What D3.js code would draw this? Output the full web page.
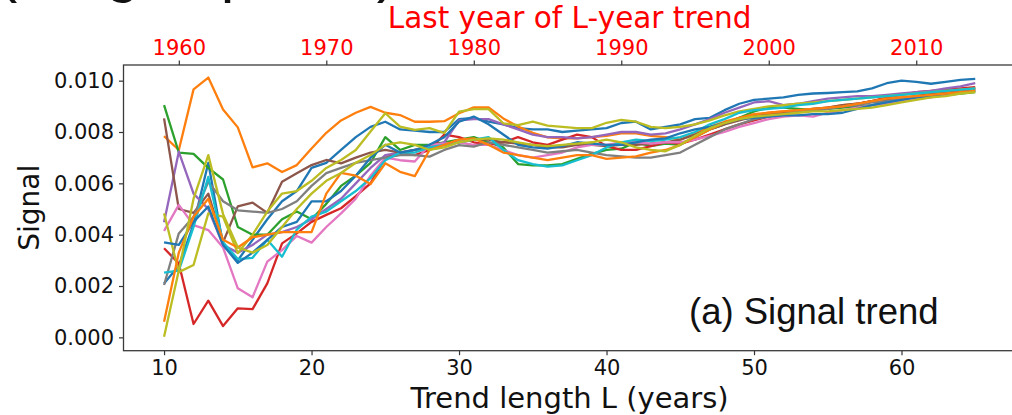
<!DOCTYPE html>
<html>
<head>
<meta charset="utf-8">
<script src="https://cdn.jsdelivr.net/npm/d3@7"></script>
<style>
  body { margin: 0; background: #fff; }
  svg { display: block; }
  svg text { font-family: "DejaVu Sans", sans-serif; }
</style>
</head>
<body>
<div id="chart"></div>
<script>
// Trend length L (years), one value per ensemble member per L
const trendLengths = d3.range(10, 66);

// Signal values, in units of 1e-3
const memberBlue1 = [
  2.1, 2.8, 4.4, 6.8, 3.6, 3.0, 3.8, 4.6, 5.3, 5.7,
  6.6, 6.8, 7.3, 7.8, 8.2, 8.4, 8.1, 8.05, 8.0, 8.0,
  8.5, 8.55, 8.4, 8.3, 8.15, 8.1, 8.1, 8.0, 8.05, 8.1,
  8.15, 8.35, 8.4, 8.1, 8.2, 8.3, 8.5, 8.55, 8.85, 9.1,
  9.25, 9.3, 9.35, 9.45, 9.5, 9.52, 9.55, 9.58, 9.7, 9.9,
  10.0, 9.95, 9.88, 9.95, 10.03, 10.07
];
const memberOrange1 = [
  7.84, 7.3, 9.66, 10.12, 8.88, 8.18, 6.62, 6.78, 6.44, 6.71,
  7.36, 7.97, 8.45, 8.75, 8.98, 8.75, 8.66, 8.4, 8.4, 8.42,
  8.73, 8.96, 8.96, 8.53, 8.21, 7.97, 7.79, 7.75, 7.75, 7.8,
  7.85, 7.95, 7.95, 7.85, 7.8, 7.7, 7.95, 8.2, 8.4, 8.55,
  8.65, 8.75, 8.8, 8.85, 8.9, 8.95, 9.05, 9.1, 9.2, 9.3,
  9.35, 9.4, 9.5, 9.6, 9.65, 9.68
];
const memberGreen = [
  9.05, 7.2, 7.15, 6.6, 6.15, 4.3, 4.0, 4.0, 4.6, 4.9,
  4.6, 5.2, 5.9, 6.3, 6.8, 7.8, 7.3, 7.5, 7.5, 7.6,
  7.7, 7.8, 7.6, 7.4, 6.75, 6.7, 6.7, 6.75, 6.95, 7.15,
  7.3, 7.35, 7.6, 7.45, 7.55, 7.5, 7.8, 8.1, 8.3, 8.55,
  8.8, 8.95, 8.95, 8.9, 8.85, 8.9, 8.95, 9.0, 9.05, 9.15,
  9.2, 9.3, 9.4, 9.45, 9.5, 9.55
];
const memberRed = [
  3.47, 2.88, 0.52, 1.43, 0.44, 1.13, 1.1, 2.1, 3.66, 4.05,
  4.5, 4.77, 5.03, 5.5, 6.0, 7.0, 7.2, 7.1, 7.3, 7.9,
  7.8, 7.6, 7.5, 7.6, 7.8, 7.6, 7.5, 7.7, 7.9, 7.8,
  7.45, 7.3, 7.3, 7.45, 7.6, 7.55, 7.7, 7.9, 8.1, 8.3,
  8.45, 8.6, 8.7, 8.8, 8.85, 8.95, 9.0, 9.1, 9.2, 9.35,
  9.45, 9.55, 9.6, 9.65, 9.7, 9.75
];
const memberPurple = [
  4.48, 7.23, 5.6, 5.0, 3.6, 3.3, 3.6, 4.0, 4.1, 4.3,
  4.6, 5.0, 5.4, 6.0, 6.6, 7.1, 7.2, 7.3, 7.4, 7.6,
  8.45, 8.5, 8.5, 8.3, 8.1, 7.9, 7.8, 7.8, 7.75, 7.8,
  7.9, 8.0, 8.0, 7.9, 7.95, 8.1, 8.3, 8.5, 8.75, 8.95,
  9.15, 9.2, 9.05, 9.1, 9.2, 9.3, 9.35, 9.4, 9.4, 9.45,
  9.5, 9.55, 9.6, 9.7, 9.78, 9.9
];
const memberBrown = [
  8.53, 5.0, 4.85, 5.6, 3.7, 5.1, 5.25, 4.85, 6.06, 6.39,
  6.71, 6.91, 6.78, 7.0, 7.2, 7.3, 7.2, 7.3, 7.4, 7.5,
  7.6, 7.7, 7.7, 7.6, 7.55, 7.5, 7.4, 7.4, 7.5, 7.5,
  7.45, 7.5, 7.5, 7.55, 7.6, 7.7, 7.9, 8.1, 8.3, 8.45,
  8.6, 8.7, 8.75, 8.8, 8.9, 8.95, 9.05, 9.1, 9.2, 9.25,
  9.3, 9.4, 9.5, 9.55, 9.6, 9.7
];
const memberPink = [
  4.15, 5.16, 4.37, 4.18, 3.5, 1.91, 1.56, 2.95, 3.4, 3.95,
  3.69, 4.3, 4.83, 5.4, 6.3, 7.0, 6.9, 6.85, 7.5, 7.55,
  7.6, 7.5, 7.5, 7.3, 7.1, 7.0, 7.1, 7.2, 7.4, 7.5,
  7.5, 7.6, 7.6, 7.55, 7.6, 7.6, 7.7, 7.85, 8.0, 8.2,
  8.35, 8.5, 8.6, 8.65, 8.6, 8.75, 8.85, 8.95, 9.05, 9.1,
  9.2, 9.3, 9.35, 9.45, 9.55, 9.65
];
const memberGray = [
  2.04, 4.05, 4.7, 6.06, 5.3, 4.95, 4.9, 4.85, 5.0, 5.3,
  5.9, 6.4, 6.6, 6.8, 6.9, 7.0, 7.1, 7.1, 7.04, 7.3,
  7.49, 7.43, 7.6, 7.5, 7.4, 7.3, 7.2, 7.25, 7.3, 7.2,
  7.1, 7.05, 7.0, 7.0, 7.1, 7.2, 7.5, 7.8, 8.1, 8.3,
  8.5, 8.6, 8.7, 8.8, 8.85, 8.9, 9.0, 9.05, 9.15, 9.2,
  9.3, 9.35, 9.4, 9.5, 9.55, 9.6
];
const memberOlive1 = [
  4.83, 2.54, 2.82, 4.83, 4.7, 3.28, 4.0, 4.9, 5.6, 5.7,
  6.1, 6.6, 6.91, 7.3, 8.02, 8.73, 8.21, 8.08, 8.15, 7.96,
  8.79, 8.89, 8.89, 8.34, 8.27, 8.4, 8.25, 8.2, 8.15, 8.15,
  8.36, 8.47, 8.4, 8.2, 8.15, 8.2, 8.3, 8.45, 8.65, 8.8,
  8.9, 9.0, 9.05, 9.1, 9.15, 9.2, 9.25, 9.3, 9.35, 9.4,
  9.45, 9.5, 9.55, 9.6, 9.65, 9.7
];
const memberCyan = [
  2.52, 2.6, 4.3, 6.25, 3.7, 3.05, 3.1, 3.8, 3.14, 4.2,
  4.7, 4.9, 5.3, 5.7, 6.2, 6.9, 7.2, 7.2, 7.4, 7.5,
  7.6, 7.7, 7.8, 7.3, 6.9, 6.75, 6.65, 6.7, 6.9, 7.1,
  7.4, 7.6, 7.7, 7.65, 7.7, 7.8, 8.0, 8.3, 8.5, 8.75,
  8.85, 8.9, 8.95, 9.05, 9.1, 9.2, 9.25, 9.3, 9.35, 9.4,
  9.45, 9.5, 9.55, 9.6, 9.65, 9.7
];
const memberBlue2 = [
  3.7, 3.6, 4.5, 5.1, 3.6, 2.9, 3.3, 3.8, 4.3, 4.5,
  5.3, 5.3, 5.7, 6.3, 7.0, 7.5, 7.2, 7.3, 7.5, 7.8,
  8.4, 8.6, 8.3, 7.9, 7.5, 7.4, 7.35, 7.45, 7.6, 7.55,
  7.5, 7.5, 7.6, 7.7, 7.75, 7.95, 8.1, 8.2, 8.35, 8.5,
  8.55, 8.6, 8.65, 8.65, 8.7, 8.7, 8.75, 8.9, 9.05, 9.15,
  9.25, 9.35, 9.4, 9.5, 9.55, 9.6
];
const memberOrange2 = [
  0.61, 3.3, 4.7, 5.4, 3.8, 3.5, 3.9, 4.0, 4.1, 4.1,
  4.1, 5.6, 6.41, 6.3, 5.97, 6.78, 6.45, 6.28, 7.3, 7.5,
  7.7, 7.75, 7.5, 7.2, 7.1, 7.0, 6.9, 7.0, 7.1, 7.1,
  6.95, 7.0, 7.05, 7.2, 7.3, 7.5, 7.8, 8.1, 8.35, 8.55,
  8.7, 8.75, 8.8, 8.85, 8.9, 8.95, 9.0, 9.1, 9.2, 9.3,
  9.35, 9.4, 9.45, 9.5, 9.55, 9.6
];
const memberOlive2 = [
  0.02, 2.6, 5.4, 7.1, 4.8, 3.5, 3.3, 3.6, 4.3, 5.0,
  5.6, 6.1, 6.4, 6.8, 7.1, 7.5, 7.6, 7.5, 7.3, 7.4,
  7.6, 7.7, 7.75, 7.7, 7.6, 7.5, 7.45, 7.5, 7.55, 7.6,
  7.7, 7.6, 7.4, 7.3, 7.25, 7.5, 7.85, 8.15, 8.35, 8.5,
  8.6, 8.65, 8.7, 8.75, 8.8, 8.8, 8.85, 8.9, 8.95, 9.05,
  9.15, 9.25, 9.35, 9.4, 9.5, 9.55
];

const members = [
  memberBlue1, memberOrange1, memberGreen, memberRed, memberPurple,
  memberBrown, memberPink, memberGray, memberOlive1, memberCyan,
  memberBlue2, memberOrange2, memberOlive2
];
const memberColors = [
  "#1f77b4", "#ff7f0e", "#2ca02c", "#d62728", "#9467bd",
  "#8c564b", "#e377c2", "#7f7f7f", "#bcbd22", "#17becf",
  "#1f77b4", "#ff7f0e", "#bcbd22"
];

const xTicks = [10, 20, 30, 40, 50, 60];
const yTicks = [0, 2, 4, 6, 8, 10];
const yearTicks = [1960, 1970, 1980, 1990, 2000, 2010];
const firstYear = 1949; // last year of the trend = firstYear + L

const W = 1012, H = 415;
const box = { left: 123.5, right: 1015.8, top: 65, bottom: 350.7 };

const svg = d3.select("#chart").append("svg")
    .attr("width", W)
    .attr("height", H);

// Scales (matplotlib-style 5% margins)
const x = d3.scaleLinear().domain([7.25, 67.75]).range([box.left, box.right]);
const xYear = d3.scaleLinear()
    .domain([7.25 + firstYear, 67.75 + firstYear])
    .range([box.left, box.right]);
const y = d3.scaleLinear().domain([-0.52, 10.61]).range([box.bottom, box.top]);

// Lines
const line = d3.line()
    .x((d, i) => x(trendLengths[i]))
    .y(d => y(d));

svg.append("g")
  .selectAll("path")
  .data(members)
  .enter()
  .append("path")
    .attr("d", line)
    .attr("fill", "none")
    .attr("stroke", (d, i) => memberColors[i])
    .attr("stroke-width", 2.3)
    .attr("stroke-linejoin", "round");

// Axes
function styleAxis(g, color) {
  g.select(".domain").remove();
  g.selectAll(".tick line").attr("stroke", "#333").attr("stroke-width", 1.2);
  g.selectAll(".tick text")
    .attr("fill", color)
    .style("font-size", "21px");
}

svg.append("g")
    .attr("transform", `translate(0,${box.bottom})`)
    .call(d3.axisBottom(x).tickValues(xTicks).tickSize(4.5).tickPadding(5).tickSizeOuter(0))
    .call(g => styleAxis(g, "#111"));

svg.append("g")
    .attr("transform", `translate(${box.left},0)`)
    .call(d3.axisLeft(y).tickValues(yTicks)
      .tickFormat(d => (d / 1000).toFixed(3))
      .tickSize(4.5).tickPadding(5).tickSizeOuter(0))
    .call(g => styleAxis(g, "#111"));

svg.append("g")
    .attr("transform", `translate(0,${box.top})`)
    .call(d3.axisTop(xYear).tickValues(yearTicks).tickFormat(d3.format("d"))
      .tickSize(4.5).tickPadding(6).tickSizeOuter(0))
    .call(g => styleAxis(g, "red"));

// Frame
svg.append("rect")
    .attr("x", box.left)
    .attr("y", box.top)
    .attr("width", box.right - box.left)
    .attr("height", box.bottom - box.top)
    .attr("fill", "none")
    .attr("stroke", "#3a3a3a")
    .attr("stroke-width", 1.3);

// Labels
svg.append("text")
    .attr("x", (box.left + box.right) / 2)
    .attr("y", 408)
    .attr("text-anchor", "middle")
    .style("font-size", "29px")
    .attr("fill", "#111")
    .text("Trend length L (years)");

svg.append("text")
    .attr("transform", `translate(39,${(box.top + box.bottom) / 2}) rotate(-90)`)
    .attr("text-anchor", "middle")
    .style("font-size", "28px")
    .attr("fill", "#111")
    .text("Signal");

svg.append("text")
    .attr("x", (box.left + box.right) / 2)
    .attr("y", 28)
    .attr("text-anchor", "middle")
    .style("font-size", "29.5px")
    .attr("fill", "red")
    .text("Last year of L-year trend");

svg.append("text")
    .attr("x", 689)
    .attr("y", 324)
    .style("font-family", "'Liberation Sans', Arial, sans-serif")
    .style("font-size", "36.5px")
    .attr("fill", "#111")
    .text("(a) Signal trend");

// Heading above the panel, mostly cut off by the page edge
svg.append("text")
    .attr("x", -3)
    .attr("y", -10)
    .style("font-family", "'Liberation Sans', Arial, sans-serif")
    .style("font-size", "61px")
    .attr("fill", "#111")
    .text("(Large spread)");
</script>
</body>
</html>
